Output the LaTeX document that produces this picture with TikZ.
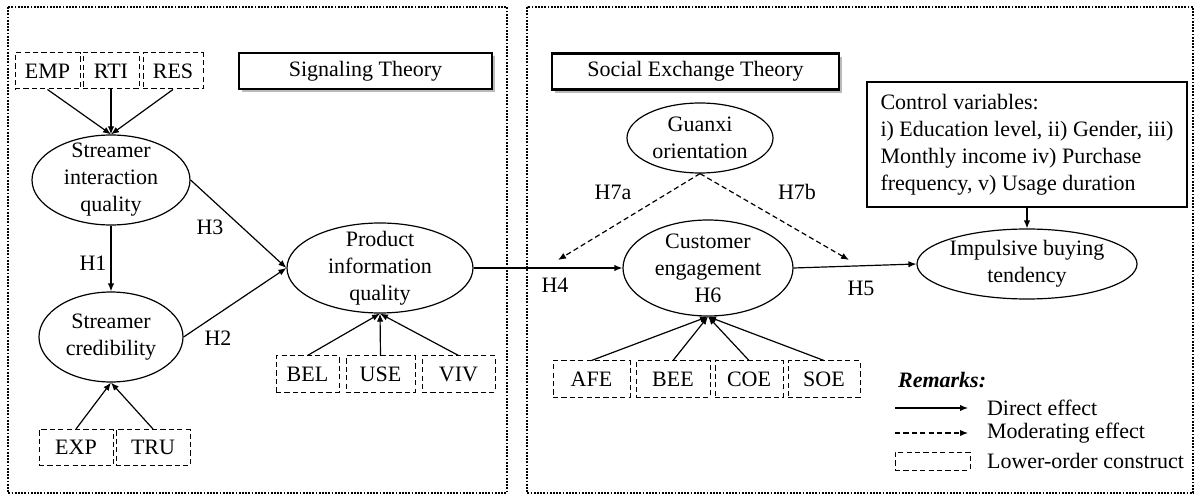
\documentclass[tikz,border=0pt]{standalone}
\usepackage{fontspec}
\setmainfont{Liberation Serif}
\usetikzlibrary{arrows.meta,positioning,shapes.geometric,shadows}

\begin{document}
\begin{tikzpicture}[x=0.5pt, y=-0.5pt, font=\fontsize{11}{13.5}\selectfont,
  lv/.style={draw, ellipse, inner sep=0pt, line width=0.6pt},
  lo/.style={draw, dash pattern=on 2.6pt off 1.6pt, line width=0.5pt, minimum height=18pt, inner sep=0pt},
  th/.style={draw, line width=1.4pt, minimum height=18pt, fill=white,
    drop shadow={shadow xshift=1.6pt, shadow yshift=-1.6pt, opacity=0.45, fill=black!60}},
  ar/.style={-{Latex[length=4pt,width=3.2pt]}, line width=0.6pt},
  md/.style={ar, dash pattern=on 2.6pt off 1.6pt},
  frame/.style={line width=1.1pt, dash pattern=on 0.9pt off 0.7pt}]
\useasboundingbox (0,0) rectangle (1198,496);

% theory frames
\draw[frame] (8,7) rectangle (507,493);
\draw[frame] (527,7) rectangle (1193,493);
\node[th, minimum width=126.5pt] (sig) at (365.5,71) {Signaling Theory};
\node[th, minimum width=143.5pt] (set) at (695.5,71.5) {Social Exchange Theory};

% latent variables
\node[lv, minimum width=79pt, minimum height=45pt] (siq) at (111,180)
  {}; \node[align=center] at (siq) {Streamer\\interaction\\quality};
\node[lv, minimum width=72pt, minimum height=45pt] (sc) at (111,337)
  {}; \node[align=center] at (sc) {Streamer\\credibility};
\node[lv, minimum width=93pt, minimum height=45pt] (piq) at (380,268)
  {}; \node[align=center] at (piq) {Product\\information\\quality};
\node[lv, minimum width=73pt, minimum height=35pt] (go) at (700,138)
  {}; \node[align=center] at (go) {Guanxi\\orientation};
\node[lv, minimum width=85pt, minimum height=48pt] (ce) at (708,268)
  {}; \node[align=center] at (ce) {Customer\\engagement\\H6};
\node[lv, minimum width=110pt, minimum height=35pt] (ibt) at (1027,264)
  {}; \node[align=center] at (ibt) {Impulsive buying\\tendency};

% lower-order constructs
\node[lo, minimum width=32.5pt] (emp) at (47.5,71) {EMP};
\node[lo, minimum width=28pt] (rti) at (111,71) {RTI};
\node[lo, minimum width=30pt] (res) at (173,71) {RES};
\node[lo, minimum width=37pt] (exp) at (76,447.5) {EXP};
\node[lo, minimum width=37pt] (tru) at (153,447.5) {TRU};
\node[lo, minimum width=31.5pt] (bel) at (307.5,374) {BEL};
\node[lo, minimum width=34.5pt] (use) at (380.5,374) {USE};
\node[lo, minimum width=36.5pt] (viv) at (458.5,374) {VIV};
\node[lo, minimum width=38.5pt] (afe) at (591.5,379) {AFE};
\node[lo, minimum width=37pt] (bee) at (673,379) {BEE};
\node[lo, minimum width=34pt] (coe) at (749,379) {COE};
\node[lo, minimum width=36pt] (soe) at (824,379) {SOE};

\foreach \s in {emp,rti,res} \draw[ar] (\s.south) -- (siq.north);
\foreach \s in {exp,tru} \draw[ar] (\s.north) -- (sc.south);
\foreach \s in {bel,use,viv} \draw[ar] (\s.north) -- (piq.south);
\foreach \s in {afe,bee,coe,soe} \draw[ar] (\s.north) -- (ce.south);

% control variables
\node[draw, line width=0.6pt, align=left, inner xsep=3pt, minimum width=160pt, minimum height=62.5pt]
  (ctl) at (1027,144.5) {Control variables:\\i) Education level, ii) Gender, iii)\\Monthly income iv) Purchase\\frequency, v) Usage duration};

% paths
\draw[ar] (siq.south) -- (sc.north);
\draw[ar] (siq.east) -- (piq.west);
\draw[ar] (sc.east) -- (piq.west);
\draw[ar] (piq.east) -- (ce.west);
\draw[ar] (ce.east) -- (ibt.west);
\draw[ar] (ctl.south) -- (ibt.north);
\coordinate (m1) at (558,260);
\coordinate (m2) at (849,260);
\draw[md] (go.south) -- (m1);
\draw[md] (go.south) -- (m2);

\node (h1) at (93,263) {H1};
\node (h2) at (218,338) {H2};
\node (h3) at (210,227) {H3};
\node (h4) at (555,285) {H4};
\node (h5) at (861,288) {H5};
\node (h7a) at (613,192) {H7a};
\node (h7b) at (797,192) {H7b};

% remarks
\node[anchor=west, font=\fontsize{11}{13.5}\selectfont\bfseries\itshape] (rem) at (891,380) {Remarks:};
\coordinate (d1) at (895,408);
\coordinate (d2) at (968,408);
\coordinate (e1) at (895,433);
\coordinate (e2) at (968,433);
\draw[ar] (d1) -- (d2);
\draw[md] (e1) -- (e2);
\node[lo, minimum width=37.5pt, minimum height=9pt] (lob) at (932.5,461) {};
\node[anchor=west] (t1) at (980,408) {Direct effect};
\node[anchor=west] (t2) at (980,433) {Moderating effect};
\node[anchor=west] (t3) at (980,461) {Lower-order construct};
\end{tikzpicture}
\end{document}
